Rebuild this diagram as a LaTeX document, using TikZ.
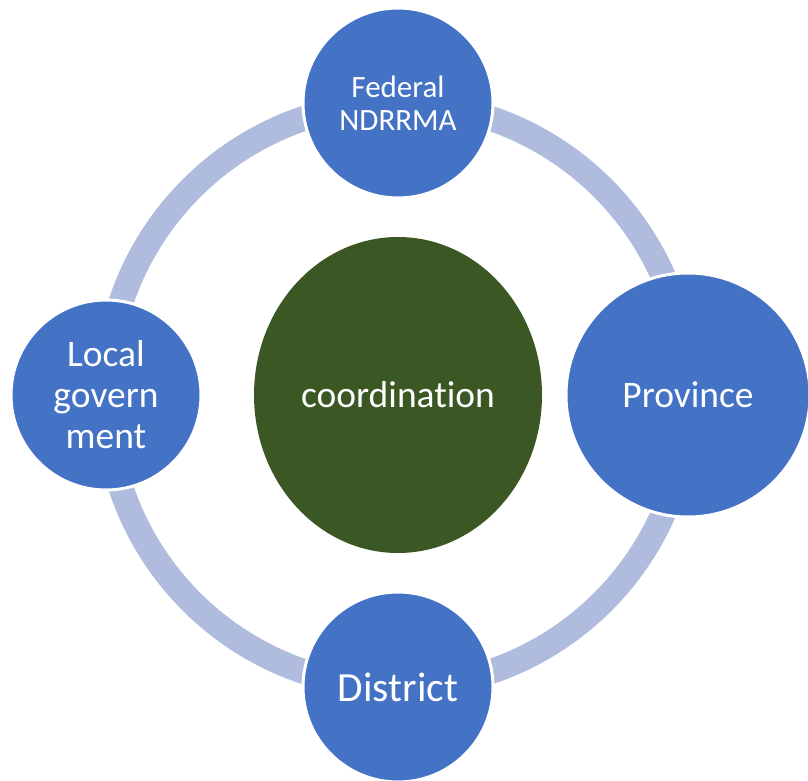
\documentclass[tikz,border=0pt]{standalone}
\usepackage{fontspec}
\setmainfont{Carlito}[Ligatures={NoCommon}]
\usepackage{tikz}
\usetikzlibrary{positioning,shapes.geometric,backgrounds}

\definecolor{orgblue}{HTML}{4472C4}
\definecolor{ringblue}{HTML}{AFBCDE}
\definecolor{hubgreen}{HTML}{3B5724}

\begin{document}
\begin{tikzpicture}[x=1pt,y=-1pt,node distance=292pt,
                    org node/.style={circle,fill=orgblue,draw=white,line width=3pt,
                                     minimum size=190pt,inner sep=0pt,align=center,
                                     text=white,font=\fontsize{37.5}{41}\selectfont},
                    hub node/.style={ellipse,fill=hubgreen,minimum width=288pt,
                                     minimum height=316pt,inner sep=0pt,text=white,
                                     font=\fontsize{37.5}{41}\selectfont},
                    ring/.style={draw=ringblue,line width=25pt}
                   ]

  \useasboundingbox (0,0) rectangle (808,781);

  \node[hub node] (hub) at (398,395) {coordination};
  \node[org node,font=\fontsize{31}{33}\selectfont] (fed) [above of=hub] {Federal\\NDRRMA};
  \node[org node,minimum size=244pt] (prov) [right of=hub,xshift=-2pt] {Province};
  \node[org node,font=\fontsize{41.5}{44}\selectfont] (dist) [below of=hub] {District};
  \node[org node] (local) [left of=hub] {Local\\govern\\ment};

  \begin{scope}[on background layer]
  \path[ring]%
    (fed.center) edge [bend left=45] (prov.center)
    (prov.center) edge [bend left=45] (dist.center)
    (dist.center) edge [bend left=45] (local.center)
    (local.center) edge [bend left=45] (fed.center);
  \end{scope}
\end{tikzpicture}
\end{document}
